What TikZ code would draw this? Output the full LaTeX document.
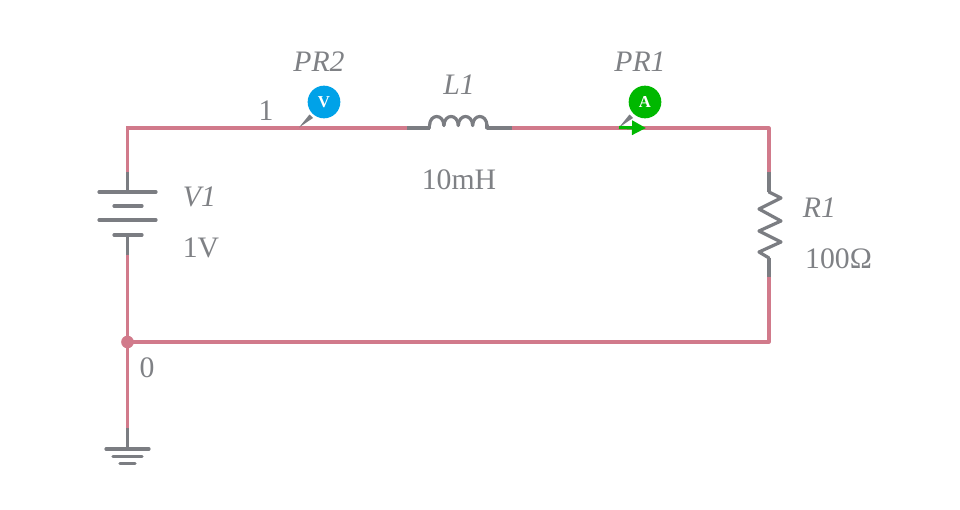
\documentclass[tikz,border=0pt]{standalone}
\usepackage{fontspec}
\setmainfont{Liberation Serif}
\definecolor{WirePink}{HTML}{D17A8B}
\definecolor{PartGray}{HTML}{7B7D82}
\definecolor{LabelGray}{HTML}{7F8185}
\definecolor{ProbeBlue}{HTML}{00A2E8}
\definecolor{ProbeGreen}{HTML}{00B800}
\usetikzlibrary{arrows.meta}
\tikzset{
  wire/.style={WirePink,line width=2.4pt},
  part/.style={PartGray,line width=2.4pt,line cap=round,line join=round},
  lead/.style={PartGray,line width=2.4pt},
  label/.style={LabelGray,font=\fontsize{22.3}{24}\selectfont\itshape,inner sep=0pt},
  value/.style={LabelGray,font=\fontsize{22.3}{24}\selectfont,inner sep=0pt},
  probe/.style={circle,minimum size=24.5pt,inner sep=0pt,text=white,
                font=\fontsize{12.5}{12}\selectfont\bfseries},
  tip/.style={fill=PartGray,draw=none}
}
\begin{document}
\begin{tikzpicture}[x=0.75pt,y=-0.75pt]
        \useasboundingbox (0,0) rectangle (960,510);
        % corners and lead ends
        \coordinate (topleft) at (127.5,128);
        \coordinate (topright) at (769,128);
        \coordinate (botright) at (769,342);
        \coordinate (batin) at (127.5,172);
        \coordinate (batout) at (127.5,255);
        \coordinate (batplus) at (127.5,192);
        \coordinate (batminus) at (127.5,235);
        \coordinate (gndin) at (127.5,428);
        \coordinate (gndtop) at (127.5,449);
        \coordinate (indin) at (407,128);
        \coordinate (indout) at (512,128);
        \coordinate (coilin) at (429.5,128);
        \coordinate (coilout) at (487,128);
        \coordinate (resin) at (769,172);
        \coordinate (resout) at (769,277);
        \coordinate (restop) at (769,192);
        \coordinate (resbot) at (769,258);
        \coordinate (prtwotip) at (299,127.5);
        \coordinate (pronetip) at (619,127.5);
        \coordinate (flowend) at (646,128);
        \node[circle,fill=WirePink,minimum size=9.5pt,inner sep=0pt,outer sep=0pt] (junction) at (127.5,342) {};
        % wires
        \draw[wire,line join=round] (indout) -- (topright) -- (resin);
        \draw[wire] (indin) -- (topleft) -- (batin);
        \draw[wire] (batout) -- (gndin);
        \draw[wire,line join=round] (resout) -- (botright) -- (junction.center);
        % battery
        \draw[lead] (batin) -- (batplus);
        \draw[lead] (batminus) -- (batout);
        \draw[part] (99,192) -- (156,192);
        \draw[part] (114,206) -- (142,206);
        \draw[part] (99,220) -- (156,220);
        \draw[part] (114,235) -- (142,235);
        % ground
        \draw[lead] (gndin) -- (gndtop);
        \draw[part] (106,449) -- (149,449);
        \draw[part] (113,456.5) -- (142,456.5);
        \draw[part] (120,463.5) -- (135,463.5);
        % inductor
        \draw[lead] (indin) -- (coilin);
        \draw[lead] (coilout) -- (indout);
        \draw[part] (coilin) -- ++(0,-2.5);
        \draw[part] (coilout) -- ++(0,-2.5);
        \foreach \x in {429.5,443.9,458.3,472.6}
          \draw[part] (\x,125.5) .. controls (\x+0.5,113.5) and (\x+13.9,113.5) .. (\x+14.4,125.5);
        % resistor
        \draw[lead] (resin) -- (restop);
        \draw[lead] (resbot) -- (resout);
        \draw[part] (restop) -- (781,198) -- (759,209) -- (781,221) -- (759,231)
              -- (781,242) -- (759,252) -- (resbot);
        % probes
        \node[probe,fill=ProbeBlue] (prtwo) at (324,102) {V};
        \node[probe,fill=ProbeGreen] (prone) at (645,102) {A};
        \fill[tip] (prtwotip) -- (309.5,114.5) -- (313,118) -- cycle;
        \fill[tip] (pronetip) -- (629.5,114.5) -- (633,118) -- cycle;
        \draw[ProbeGreen,line width=2.4pt,-{Triangle[length=10.5pt,width=10.5pt]}] (pronetip) -- (flowend);
        % labels
        \node[label] (prtwolabel) at (319,61.5) {PR2};
        \node[label] (pronelabel) at (640,61.5) {PR1};
        \node[label] (indlabel) at (459,85) {L1};
        \node[value] (indvalue) at (459,180) {10mH};
        \node[label] (batlabel) at (199.5,197) {V1};
        \node[value] (batvalue) at (201,248) {1V};
        \node[label] (reslabel) at (819.5,208) {R1};
        \node[value] (resvalue) at (838.5,259) {100Ω};
        \node[value] (netone) at (266,111) {1};
        \node[value] (netzero) at (147,368) {0};
      \end{tikzpicture}
\end{document}
